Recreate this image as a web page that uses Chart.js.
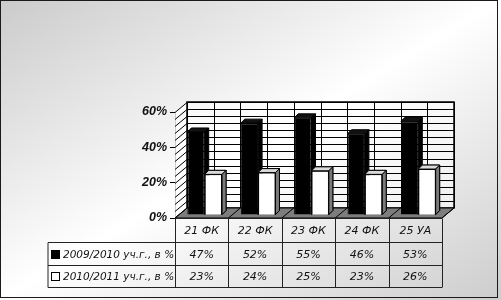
<!DOCTYPE html>
<html>
<head>
<meta charset="utf-8">
<script src="https://cdn.jsdelivr.net/npm/chart.js@4.4.0/dist/chart.umd.min.js"></script>
<style>
  html, body { margin: 0; padding: 0; background: #fff; }
  canvas { display: block; }
</style>
</head>
<body>
<canvas id="chart" width="501" height="300"></canvas>
<script>
const categories = ['21 ФК', '22 ФК', '23 ФК', '24 ФК', '25 УА'];
const seriesNames = ['2009/2010 уч.г., в %', '2010/2011 уч.г., в %'];
const values2009 = [47, 52, 55, 46, 53];
const values2010 = [23, 24, 25, 23, 26];
const yTicks = [0, 20, 40, 60];

// 3d look
const WALL_DX = 12, WALL_DY = -10;
const BAR_DX = 4, BAR_DY = -4;
const SHIFT_X = 3, SHIFT_Y = -3;
const GRID_STEP = 4;
const ROW_H = [24, 23, 22];
const LEGEND_LEFT = 48;

function poly(ctx, pts, fill, stroke) {
    ctx.beginPath();
    ctx.moveTo(pts[0][0], pts[0][1]);
    for (let i = 1; i < pts.length; i++) ctx.lineTo(pts[i][0], pts[i][1]);
    ctx.closePath();
    if (fill) { ctx.fillStyle = fill; ctx.fill(); }
    if (stroke) { ctx.strokeStyle = stroke; ctx.stroke(); }
}

function line(ctx, x1, y1, x2, y2) {
    ctx.beginPath();
    ctx.moveTo(x1, y1);
    ctx.lineTo(x2, y2);
    ctx.stroke();
}

function drawFaces(ctx, meta, topColor, sideColor) {
    ctx.save();
    ctx.lineWidth = 1;
    meta.data.forEach(bar => {
        const p = bar.getProps(['x', 'y', 'base', 'width'], true);
        const l = p.x - p.width / 2, r = p.x + p.width / 2;
        poly(ctx, [[l, p.y], [l + BAR_DX, p.y + BAR_DY], [r + BAR_DX, p.y + BAR_DY], [r, p.y]], topColor, '#000');
        poly(ctx, [[r, p.y], [r + BAR_DX, p.y + BAR_DY], [r + BAR_DX, p.base + BAR_DY], [r, p.base]], sideColor, '#000');
    });
    ctx.restore();
}

const faceColors = [['#111', '#000'], ['#d9d9d9', '#7a7a7a']];

const scenePlugin = {
    id: 'scene',
    beforeDraw(chart) {
        const ctx = chart.ctx;
        const g = ctx.createLinearGradient(118, -70, 382, 370);
        g.addColorStop(0, '#cbcbcb');
        g.addColorStop(0.5, '#ffffff');
        g.addColorStop(1, '#cdcdcd');
        ctx.save();
        ctx.fillStyle = g;
        ctx.fillRect(0, 0, chart.width, chart.height);
        ctx.restore();
    },
    beforeDatasetsDraw(chart) {
        const { ctx, chartArea: a, scales: { y } } = chart;
        const y0 = y.getPixelForValue(0);
        const yTop = y.getPixelForValue(y.max);
        const cw = (a.right - a.left) / categories.length;
        ctx.save();
        ctx.lineWidth = 1;
        ctx.strokeStyle = '#000';
        // back wall
        ctx.fillStyle = 'rgba(255,255,255,0.5)';
        ctx.fillRect(a.left + WALL_DX, yTop + WALL_DY, a.right - a.left, y0 - yTop);
        // side wall
        poly(ctx, [[a.left, y0], [a.left + WALL_DX, y0 + WALL_DY], [a.left + WALL_DX, yTop + WALL_DY], [a.left, yTop]], 'rgba(255,255,255,0.8)');
        for (let v = 0; v <= y.max; v += GRID_STEP) {
            const py = Math.round(y.getPixelForValue(v) + WALL_DY) + 0.5;
            line(ctx, a.left + WALL_DX, py, a.right + WALL_DX, py);
            line(ctx, a.left, py - WALL_DY, a.left + WALL_DX, py);
        }
        for (let i = 0; i <= categories.length * 2; i++) {
            const px = Math.round(a.left + WALL_DX + i * cw / 2) + 0.5;
            line(ctx, px, yTop + WALL_DY, px, y0 + WALL_DY);
        }
        ctx.lineWidth = 1.5;
        ctx.strokeRect(a.left + WALL_DX, yTop + WALL_DY, a.right - a.left, y0 - yTop);
        ctx.lineWidth = 1;
        // floor
        poly(ctx, [[a.left, y0], [a.right, y0], [a.right + WALL_DX, y0 + WALL_DY], [a.left + WALL_DX, y0 + WALL_DY]], '#7d7d7d', '#000');
        for (let i = 0; i <= categories.length; i++) {
            const px = a.left + i * cw;
            line(ctx, px, y0, px + WALL_DX, y0 + WALL_DY);
        }
        ctx.restore();
        ctx.save();
        ctx.translate(SHIFT_X, SHIFT_Y);
    },
    afterDatasetDraw(chart, args) {
        const c = faceColors[args.index];
        drawFaces(chart.ctx, args.meta, c[0], c[1]);
    },
    afterDatasetsDraw(chart) {
        const ctx = chart.ctx;
        // white series sits in front of the black one
        const meta = chart.getDatasetMeta(1);
        meta.data.forEach(bar => bar.draw(ctx, chart.chartArea));
        drawFaces(ctx, meta, faceColors[1][0], faceColors[1][1]);
        ctx.restore();
    },
    afterDraw(chart) {
        const { ctx, chartArea: a, scales: { y } } = chart;
        const y0 = Math.round(y.getPixelForValue(0)) + 0.5;
        const cw = (a.right - a.left) / categories.length;
        const r1 = y0 + ROW_H[0], r2 = r1 + ROW_H[1], r3 = r2 + ROW_H[2];
        ctx.save();
        ctx.strokeStyle = '#222';
        ctx.lineWidth = 1;
        line(ctx, a.left, y0, a.right, y0);
        [r1, r2, r3].forEach(ry => line(ctx, LEGEND_LEFT, ry, a.right, ry));
        line(ctx, LEGEND_LEFT, r1, LEGEND_LEFT, r3);
        for (let i = 0; i <= categories.length; i++) {
            const px = Math.round(a.left + i * cw) + 0.5;
            line(ctx, px, y0, px, r3);
        }
        ctx.fillStyle = '#111';
        ctx.font = 'italic 11px "DejaVu Sans"';
        ctx.textAlign = 'center';
        ctx.textBaseline = 'middle';
        categories.forEach((c, i) => {
            const cx = a.left + (i + 0.5) * cw;
            ctx.fillText(c, cx, (y0 + r1) / 2 + 1);
            ctx.fillText(values2009[i] + '%', cx, (r1 + r2) / 2 + 1);
            ctx.fillText(values2010[i] + '%', cx, (r2 + r3) / 2 + 1);
        });
        // legend keys
        ctx.textAlign = 'left';
        ctx.font = 'italic 10.5px "DejaVu Sans"';
        const rowsMid = [(r1 + r2) / 2, (r2 + r3) / 2];
        rowsMid.forEach((m, i) => {
            ctx.fillStyle = i === 0 ? '#000' : '#fff';
            ctx.fillRect(51, Math.round(m - 4.5), 9, 9);
            ctx.strokeStyle = '#000';
            ctx.strokeRect(51.5, Math.round(m - 4.5) + 0.5, 8, 8);
            ctx.fillStyle = '#111';
            ctx.fillText(seriesNames[i], 63, m + 1);
        });
        // frame
        ctx.strokeStyle = '#1a1a1a';
        ctx.strokeRect(0.5, 0.5, 497, 297);
        ctx.restore();
    }
};

new Chart(document.getElementById('chart'), {
    type: 'bar',
    data: {
        labels: categories,
        datasets: [
            {
                label: seriesNames[0],
                data: values2009,
                backgroundColor: '#000',
                borderColor: '#000',
                borderWidth: 1,
                clip: false
            },
            {
                label: seriesNames[1],
                data: values2010,
                backgroundColor: '#fff',
                borderColor: '#000',
                borderWidth: 1,
                clip: false
            }
        ]
    },
    options: {
        responsive: false,
        animation: false,
        categoryPercentage: 0.65,
        barPercentage: 1,
        layout: { padding: { left: 135, right: 59, top: 112, bottom: 82 } },
        plugins: {
            legend: { display: false },
            tooltip: { enabled: false }
        },
        scales: {
            x: { display: false },
            y: {
                min: 0,
                max: 60,
                afterFit(scale) { scale.width = 40; },
                afterBuildTicks(scale) { scale.ticks = yTicks.map(v => ({ value: v })); },
                border: { display: true, color: '#000', width: 1 },
                grid: { drawOnChartArea: false, drawTicks: true, tickLength: 5, color: '#000' },
                ticks: {
                    padding: 3,
                    color: '#111',
                    font: { family: '"Liberation Sans", Arial', size: 12.5, weight: 'bold', style: 'italic' },
                    callback: v => v + '%'
                }
            }
        }
    },
    plugins: [scenePlugin]
});
</script>
</body>
</html>
